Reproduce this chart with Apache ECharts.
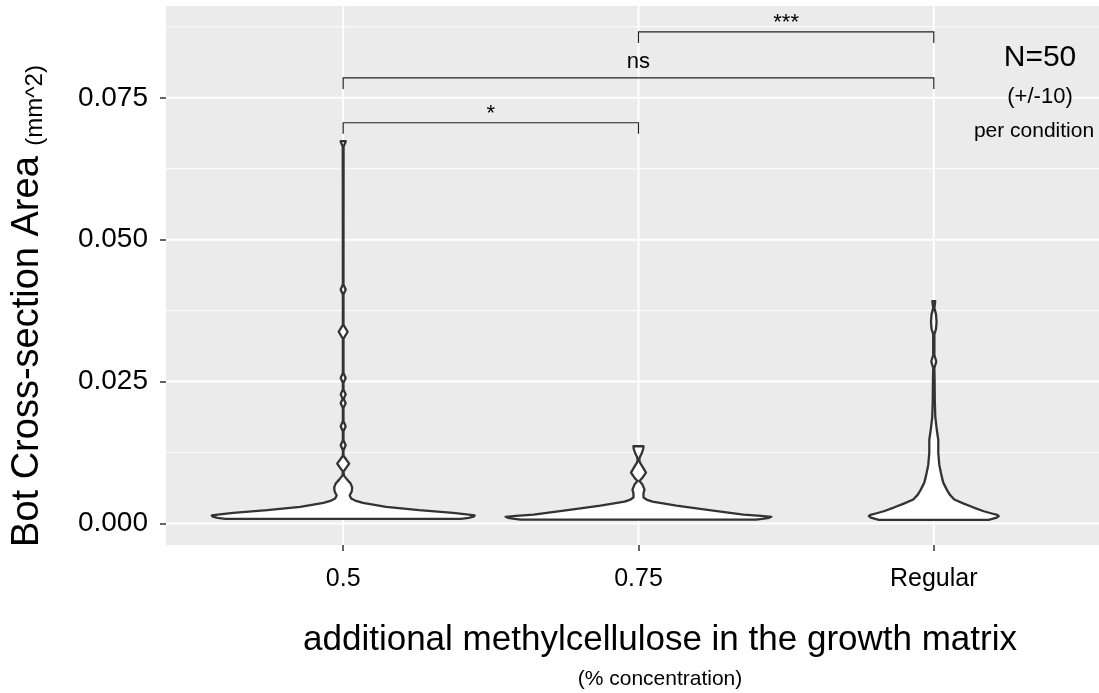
<!DOCTYPE html>
<html>
<head>
<meta charset="utf-8">
<script src="https://cdn.jsdelivr.net/npm/echarts@6/dist/echarts.min.js"></script>
<style>
  html, body { margin: 0; padding: 0; background: #ffffff; overflow: hidden; }
  #chart { width: 1099px; height: 693px; }
</style>
</head>
<body>
<div id="chart"></div>
<script>
// Conditions on the x axis
const categories = ['0.5', '0.75', 'Regular'];

// Y axis ticks (major) and minor grid positions, mm^2
const yTickValues = [0, 0.025, 0.05, 0.075];
const yMinorValues = [0.0125, 0.0375, 0.0625, 0.0875];

// Violin outlines, top to bottom: [cross-section area (mm^2), half width of the density (category units)]
const violin05 = [
  [0.06736, 0.0085], [0.06718, 0.0078], [0.06639, 0.0014],
  [0.04250, 0.0010], [0.04210, 0.0010], [0.04122, 0.0085], [0.04034, 0.0010],
  [0.03500, 0.0010], [0.03378, 0.0152], [0.03255, 0.0010],
  [0.02652, 0.0010], [0.02564, 0.0085], [0.02477, 0.0010],
  [0.02362, 0.0010], [0.02275, 0.0085], [0.02196, 0.0017], [0.02120, 0.0085], [0.02037, 0.0010],
  [0.01800, 0.0010], [0.01713, 0.0085], [0.01625, 0.0010],
  [0.01467, 0.0010], [0.01379, 0.0085], [0.01291, 0.0010],
  [0.01194, 0.0010], [0.01054, 0.0203], [0.00913, 0.0010],
  [0.00843, 0.0027], [0.00773, 0.0135], [0.00703, 0.0254], [0.00632, 0.0305],
  [0.00562, 0.0288], [0.00492, 0.0220], [0.00439, 0.0271], [0.00404, 0.0406],
  [0.00364, 0.0667], [0.00293, 0.1455], [0.00234, 0.2572], [0.00188, 0.3723],
  [0.00158, 0.4250], [0.00141, 0.4450], [0.00120, 0.4420], [0.00100, 0.4250], [0.00083, 0.3990]
];

const violin075 = [
  [0.01361, 0.0169], [0.01317, 0.0162], [0.01247, 0.0118], [0.01177, 0.0051],
  [0.01124, 0.0027], [0.01071, 0.0051], [0.01001, 0.0135], [0.00896, 0.0254],
  [0.00808, 0.0135], [0.00747, 0.0034], [0.00685, 0.0135], [0.00597, 0.0203],
  [0.00527, 0.0169], [0.00457, 0.0169], [0.00422, 0.0271], [0.00386, 0.0474],
  [0.00316, 0.1286], [0.00234, 0.2403], [0.00158, 0.3553], [0.00135, 0.4150],
  [0.00118, 0.4500], [0.00101, 0.4420], [0.00085, 0.4250], [0.00070, 0.3990]
];

const violinRegular = [
  [0.03917, 0.0051], [0.03882, 0.0041], [0.03794, 0.0020], [0.03688, 0.0074],
  [0.03557, 0.0095], [0.03425, 0.0074], [0.03337, 0.0020], [0.02968, 0.0020],
  [0.02854, 0.0085], [0.02740, 0.0020], [0.02529, 0.0027], [0.02178, 0.0034],
  [0.01879, 0.0051], [0.01651, 0.0102], [0.01475, 0.0152], [0.01247, 0.0152],
  [0.01036, 0.0186], [0.00861, 0.0254], [0.00720, 0.0321], [0.00597, 0.0440],
  [0.00509, 0.0541], [0.00422, 0.0694], [0.00351, 0.1015], [0.00281, 0.1354],
  [0.00216, 0.1692], [0.00176, 0.1963], [0.00150, 0.2150], [0.00130, 0.2200],
  [0.00105, 0.2132], [0.00065, 0.1861]
];

const violinProfiles = [violin05, violin075, violinRegular];

// Pairwise comparison brackets
const bracketFrom = [0, 0, 1];
const bracketTo = [1, 2, 2];
const bracketLevel = [0.0706, 0.0785, 0.0866];
const bracketLabel = ['*', 'ns', '***'];

const X_MIN = -0.6, X_MAX = 2.5595;
const Y_MIN = -0.003788, Y_MAX = 0.09117;

const FONT = '"Liberation Sans", Arial, Helvetica, sans-serif';
const INK = '#333333';

const chart = echarts.init(document.getElementById('chart'), null, { renderer: 'canvas' });

// Grey panel with white major/minor grid lines
function renderGrid(params, api) {
  const tl = api.coord([X_MIN, Y_MAX]);
  const br = api.coord([X_MAX, Y_MIN]);
  const children = [{ type: 'rect', shape: { x: tl[0], y: tl[1], width: br[0] - tl[0], height: br[1] - tl[1] },
    style: { fill: '#EBEBEB' } }];
  yMinorValues.forEach(function (v) {
    const y = api.coord([0, v])[1];
    children.push({ type: 'line', shape: { x1: tl[0], y1: y, x2: br[0], y2: y },
      style: { stroke: '#ffffff', lineWidth: 1 } });
  });
  yTickValues.forEach(function (v) {
    const y = api.coord([0, v])[1];
    children.push({ type: 'line', shape: { x1: tl[0], y1: y, x2: br[0], y2: y },
      style: { stroke: '#ffffff', lineWidth: 2 } });
  });
  categories.forEach(function (c, i) {
    const x = api.coord([i, 0])[0];
    children.push({ type: 'line', shape: { x1: x, y1: tl[1], x2: x, y2: br[1] },
      style: { stroke: '#ffffff', lineWidth: 2 } });
  });
  return { type: 'group', children: children };
}

function renderViolin(params, api) {
  const idx = api.value(0);
  const profile = violinProfiles[idx];
  const right = profile.map(function (p) { return api.coord([idx + p[1], p[0]]); });
  const left = profile.slice().reverse().map(function (p) { return api.coord([idx - p[1], p[0]]); });
  return {
    type: 'polygon',
    shape: { points: right.concat(left) },
    style: { fill: '#ffffff', stroke: INK, lineWidth: 2.3, lineJoin: 'round' }
  };
}

function renderBracket(params, api) {
  const i = params.dataIndex;
  const a = api.coord([bracketFrom[i], bracketLevel[i]]);
  const b = api.coord([bracketTo[i], bracketLevel[i]]);
  const drop = 11;
  const label = bracketLabel[i];
  const isStars = label.indexOf('*') >= 0;
  return {
    type: 'group',
    children: [
      { type: 'polyline',
        shape: { points: [[a[0], a[1] + drop], [a[0], a[1]], [b[0], b[1]], [b[0], b[1] + drop]] },
        style: { stroke: '#222222', lineWidth: 1.2, fill: null } },
      { type: 'text',
        x: (a[0] + b[0]) / 2, y: a[1] - (isStars ? 9 : 16),
        style: { text: label, fill: '#000000', font: '22px ' + FONT, align: 'center', verticalAlign: 'middle' } }
    ]
  };
}

const option = {
  animation: false,
  backgroundColor: '#ffffff',
  grid: {
    left: 166, right: 0, top: 6, bottom: 148,
    show: false, containLabel: false, outerBoundsMode: 'none'
  },
  xAxis: {
    type: 'value', min: X_MIN, max: X_MAX,
    axisLine: { show: false, onZero: false },
    splitLine: { show: false },
    axisTick: { show: true, customValues: [0, 1, 2], length: 6, lineStyle: { color: INK, width: 1.5 } },
    axisLabel: {
      customValues: [0, 1, 2],
      formatter: function (v) { return categories[Math.round(v)]; },
      color: '#000000', fontSize: 25, fontFamily: FONT, margin: 22
    }
  },
  yAxis: {
    type: 'value', min: Y_MIN, max: Y_MAX,
    axisLine: { show: false, onZero: false },
    splitLine: { show: false },
    axisTick: { show: true, customValues: yTickValues, length: 6, lineStyle: { color: INK, width: 1.5 } },
    axisLabel: {
      customValues: yTickValues,
      formatter: function (v) { return v.toFixed(3); },
      color: '#000000', fontSize: 28, fontFamily: FONT, margin: 18
    }
  },
  series: [
    { type: 'custom', name: 'grid', silent: true, z: 1, data: [[0, 0]], renderItem: renderGrid, clip: false },
    { type: 'custom', name: 'violins', z: 3, data: categories.map(function (c, i) { return [i, 0]; }), renderItem: renderViolin, clip: false },
    { type: 'custom', name: 'brackets', z: 4, data: bracketLabel.map(function (l, i) { return [i, bracketLevel[i]]; }), renderItem: renderBracket, clip: false }
  ],
  graphic: {
    z: 100,
    elements: [
      { type: 'text', x: 28, y: 306, rotation: Math.PI / 2, z: 100,
        style: {
          text: '{a|Bot Cross-section Area }{b|(mm^2)}',
          align: 'center', verticalAlign: 'middle',
          rich: {
            a: { fontSize: 38, fontFamily: FONT, fill: '#000000', verticalAlign: 'bottom' },
            b: { fontSize: 24, fontFamily: FONT, fill: '#000000', verticalAlign: 'bottom' }
          }
        } },
      { type: 'text', x: 660, y: 640, z: 100,
        style: { text: 'additional methylcellulose in the growth matrix', font: '35px ' + FONT, fill: '#000000', align: 'center', verticalAlign: 'middle' } },
      { type: 'text', x: 660, y: 679, z: 100,
        style: { text: '(% concentration)', font: '21px ' + FONT, fill: '#000000', align: 'center', verticalAlign: 'middle' } },
      { type: 'text', x: 1040, y: 58, z: 100,
        style: { text: 'N=50', font: '30px ' + FONT, fill: '#000000', align: 'center', verticalAlign: 'middle' } },
      { type: 'text', x: 1040, y: 97, z: 100,
        style: { text: '(+/-10)', font: '22px ' + FONT, fill: '#000000', align: 'center', verticalAlign: 'middle' } },
      { type: 'text', x: 1034, y: 131, z: 100,
        style: { text: 'per condition', font: '21px ' + FONT, fill: '#000000', align: 'center', verticalAlign: 'middle' } }
    ]
  }
};

chart.setOption(option);
</script>
</body>
</html>
